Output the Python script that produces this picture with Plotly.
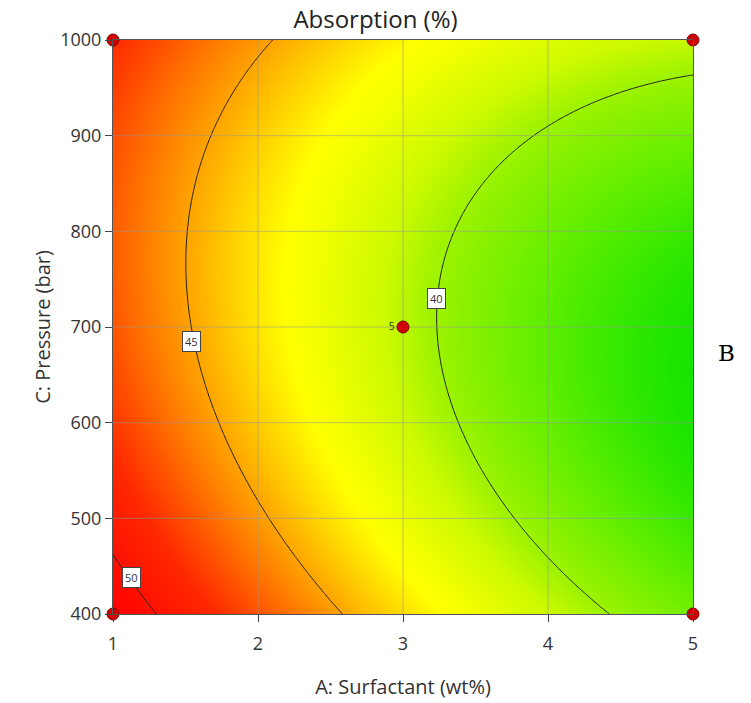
import numpy as np
import plotly.graph_objects as go

# Factor ranges
a_range = [1, 5]          # A: Surfactant (wt%)
c_range = [400, 1000]     # C: Pressure (bar)

# Quadratic response model in coded units (a, c in [-1, 1])
b0, b_a, b_c = 40.56, -4.98, -0.32
b_ac, b_aa, b_cc = 1.21, 1.51, 2.76

# Contour levels and label positions
levels = [40, 45, 50]
label_a = [3.234, 1.538, 1.13]
label_c = [730, 685, 438]

# Design points
pts_a = [1, 1, 5, 5, 3]
pts_c = [400, 1000, 400, 1000, 700]
pts_text = ["", "", "", "", "5"]

x_ticks = [1, 2, 3, 4, 5]
y_ticks = [400, 500, 600, 700, 800, 900, 1000]

A = np.linspace(a_range[0], a_range[1], 241)
C = np.linspace(c_range[0], c_range[1], 241)
AA, CC = np.meshgrid(A, C)
a = (AA - 3) / 2
c = (CC - 700) / 300
Z = b0 + b_a * a + b_c * c + b_ac * a * c + b_aa * a ** 2 + b_cc * c ** 2

colorscale = [
    [0.0, "rgb(20,228,0)"],
    [0.105, "rgb(95,238,0)"],
    [0.217, "rgb(160,243,0)"],
    [0.273, "rgb(205,250,0)"],
    [0.37, "rgb(245,255,0)"],
    [0.406, "rgb(255,255,0)"],
    [0.566, "rgb(255,160,0)"],
    [0.70, "rgb(255,85,0)"],
    [0.79, "rgb(255,40,0)"],
    [1.0, "rgb(255,0,0)"],
]

fig = go.Figure()
fig.add_trace(go.Contour(
    x=A, y=C, z=Z,
    colorscale=colorscale, zmin=37.0, zmax=51.3, showscale=False,
    contours=dict(start=levels[0], end=levels[-1], size=5,
                  coloring="heatmap", showlines=True),
    line=dict(color="#1e1e1e", width=1),
    hoverinfo="skip",
))

grid_col = "rgba(150,150,150,0.55)"
for xv in x_ticks[1:-1]:
    fig.add_trace(go.Scatter(x=[xv, xv], y=c_range, mode="lines",
                             line=dict(color=grid_col, width=1),
                             showlegend=False, hoverinfo="skip"))
for yv in y_ticks[1:-1]:
    fig.add_trace(go.Scatter(x=a_range, y=[yv, yv], mode="lines",
                             line=dict(color=grid_col, width=1),
                             showlegend=False, hoverinfo="skip"))

fig.add_trace(go.Scatter(
    x=pts_a, y=pts_c, mode="markers+text", text=pts_text,
    textposition="middle left", textfont=dict(size=10, color="#333"),
    marker=dict(size=12, color="#d00000", line=dict(color="#7a0000", width=1)),
    cliponaxis=False, showlegend=False, hoverinfo="skip",
))

for lv, la, lc in zip(levels, label_a, label_c):
    fig.add_annotation(x=la, y=lc, text=str(lv), showarrow=False,
                       font=dict(size=11, color="#333", family="Open Sans"),
                       bgcolor="white", bordercolor="#444", borderwidth=1,
                       borderpad=2)

fig.add_annotation(x=1.058, y=0.455, xref="paper", yref="paper",
                   text="B", showarrow=False, xanchor="center",
                   font=dict(size=23, color="black", family="DejaVu Serif"))

axis_common = dict(showgrid=False, zeroline=False, showline=True, mirror=True,
                   linecolor="#555", linewidth=1, ticks="outside", ticklen=7,
                   tickcolor="#444", automargin=False,
                   tickfont=dict(size=18, color="#333", family="Open Sans"))

fig.update_layout(
    width=751, height=703,
    margin=dict(l=113, r=58, t=40, b=89),
    paper_bgcolor="white", plot_bgcolor="white",
    title=dict(text="Absorption (%)", x=0.5, xanchor="center", y=0.972,
               yanchor="middle",
               font=dict(size=24, color="#222", family="Open Sans")),
    xaxis=dict(range=a_range, tickvals=x_ticks, ticklabelstandoff=6,
               title=dict(text="A: Surfactant (wt%)", standoff=26,
                          font=dict(size=20, color="#333", family="Open Sans")),
               **axis_common),
    yaxis=dict(range=c_range, tickvals=y_ticks,
               title=dict(text="C: Pressure (bar)", standoff=4,
                          font=dict(size=20, color="#333", family="Open Sans")),
               **axis_common),
)

fig.write_html("out.html")
